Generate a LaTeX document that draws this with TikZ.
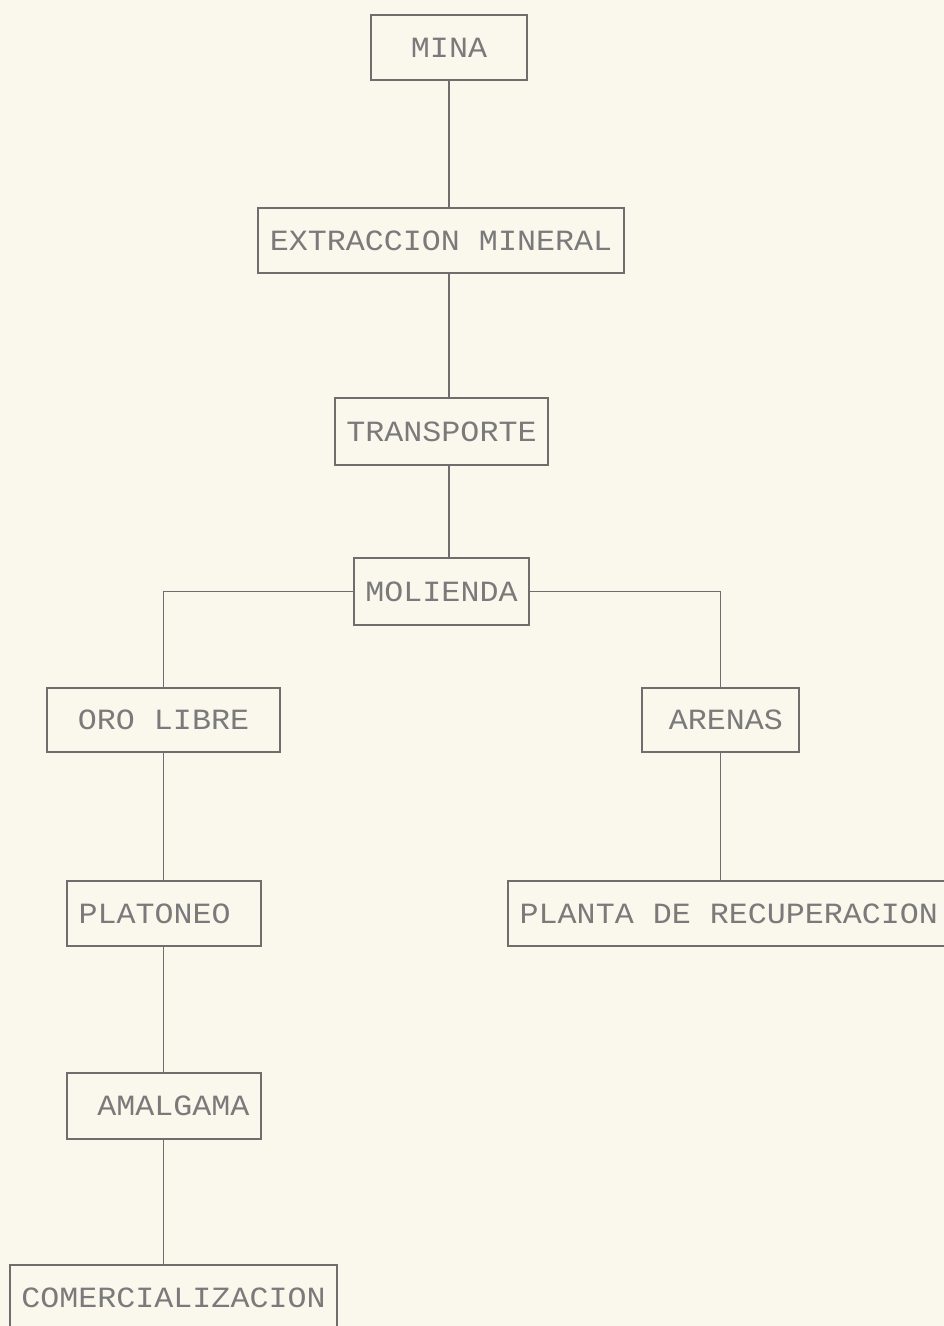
\documentclass[tikz,border=0pt]{standalone}
\usepackage{fontspec}
\newfontfamily\dotfont[FakeStretch=1.08]{Liberation Mono}
\usetikzlibrary{positioning}
\definecolor{paper}{HTML}{FAF7EC}
\definecolor{ink}{HTML}{7A7A7A}
\definecolor{rule}{HTML}{6E6E6E}

\begin{document}
\begin{tikzpicture}[x=0.75pt,y=-0.75pt,box/.style={draw=rule,line width=1.3pt,inner sep=0pt,minimum height=48.75pt,font=\dotfont\fontsize{22}{24}\selectfont,text=ink},link/.style={draw=rule,line width=1.3pt}]
\fill[paper] (0,0) rectangle (944,1326);
\useasboundingbox (0,0) rectangle (944,1326);
\node[box,minimum width=117pt] (mina) at (449,47.5) {MINA};
\node[box,minimum width=274.5pt] (extr) at (441,240.5) {EXTRACCION MINERAL};
\node[box,minimum width=159.75pt,minimum height=50.25pt] (trans) at (441.5,431.5) {TRANSPORTE};
\node[box,minimum width=131.25pt,minimum height=50.25pt] (mol) at (441.5,591.5) {MOLIENDA};
\node[box,minimum width=174.75pt,minimum height=48pt] (oro) at (163.5,720) {ORO LIBRE};
\node[box,minimum width=117.75pt,minimum height=48pt] (aren) at (720.5,720) {\hspace*{8pt}ARENAS};
\node[box,minimum width=145.5pt] (plat) at (164,913.5) {PLATONEO\hspace*{14pt}};
\node[box,minimum width=335.25pt] (plan) at (731.5,913.5) {PLANTA DE RECUPERACION\hspace*{4pt}};
\node[box,minimum width=145.5pt,minimum height=49.5pt] (amal) at (164,1106) {\hspace*{14pt}AMALGAMA};
\node[box,minimum width=245.25pt] (com) at (173.5,1297.5) {COMERCIALIZACION};
\draw[link] (mina.south) -- (mina.south |- extr.north);
\draw[link] (mina.south |- extr.south) -- (mina.south |- trans.north);
\draw[link] (mina.south |- trans.south) -- (mina.south |- mol.north);
\draw[link] (mol.west) -| (oro.north);
\draw[link] (mol.east) -| (aren.north);
\draw[link] (aren.south) -- (aren.south |- plan.north);
\draw[link] (oro.south) -- (oro.south |- plat.north);
\draw[link] (oro.south |- plat.south) -- (oro.south |- amal.north);
\draw[link] (oro.south |- amal.south) -- (oro.south |- com.north);
\end{tikzpicture}
\end{document}
